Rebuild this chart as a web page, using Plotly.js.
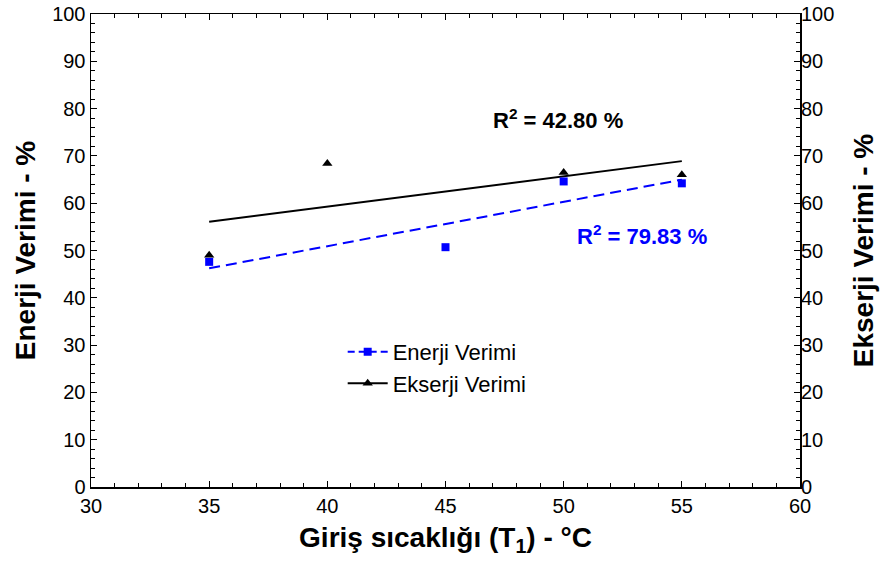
<!DOCTYPE html>
<html>
<head>
<meta charset="utf-8">
<script src="https://cdn.plot.ly/plotly-3.0.1.min.js"></script>
<style>html,body{margin:0;padding:0;background:#fff;}#chart{width:881px;height:570px;}</style>
</head>
<body>
<div id="chart"></div>
<script>
// Data
const enerjiX = [35, 45, 50, 55];
const enerjiY = [47.6, 50.7, 64.6, 64.2];
const ekserjiX = [35, 40, 50, 55];
const ekserjiY = [49.0, 68.4, 66.5, 66.0];
const trendRange = [35, 55];
const r2Enerji = "79.83";
const r2Ekserji = "42.80";

function fitLine(xs, ys, xr) {
  const n = xs.length;
  const mx = xs.reduce((a, b) => a + b, 0) / n;
  const my = ys.reduce((a, b) => a + b, 0) / n;
  let sxy = 0, sxx = 0;
  for (let i = 0; i < n; i++) { sxy += (xs[i] - mx) * (ys[i] - my); sxx += (xs[i] - mx) ** 2; }
  const b = sxy / sxx, a = my - b * mx;
  return xr.map(x => a + b * x);
}

const blue = '#0000FF';
const black = '#000000';
const font = 'Arial, "Liberation Sans", sans-serif';
const dashStyle = '11px,6px';

const traces = [
  { x: trendRange, y: fitLine(enerjiX, enerjiY, trendRange), mode: 'lines',
    line: { color: blue, width: 2, dash: dashStyle }, showlegend: false, hoverinfo: 'skip' },
  { x: trendRange, y: fitLine(ekserjiX, ekserjiY, trendRange), mode: 'lines',
    line: { color: black, width: 2 }, showlegend: false, hoverinfo: 'skip' },
  { x: enerjiX, y: enerjiY, mode: 'markers', marker: { symbol: 'square', size: 8, color: blue },
    showlegend: false },
  { x: ekserjiX, y: ekserjiY, mode: 'markers', marker: { symbol: 'triangle-up', size: 9, color: black },
    showlegend: false },
  { x: [null], y: [null], mode: 'lines+markers', name: 'Enerji Verimi',
    line: { color: blue, width: 2, dash: '7px,4px' }, marker: { symbol: 'square', size: 8, color: blue } },
  { x: [null], y: [null], mode: 'lines+markers', name: 'Ekserji Verimi',
    line: { color: black, width: 2 }, marker: { symbol: 'triangle-up', size: 9, color: black } },
  { x: [null], y: [null], yaxis: 'y2', showlegend: false, mode: 'markers' }
];

const tickFont = { family: font, size: 20, color: '#000' };
const titleFont = { family: font, size: 28, color: '#000', weight: 'bold' };

const layout = {
  width: 881, height: 570,
  margin: { l: 91, r: 81, t: 14, b: 83, pad: 0 },
  paper_bgcolor: '#fff', plot_bgcolor: '#fff',
  font: { family: font, color: '#000' },
  showlegend: true,
  legend: {
    x: 0.355, y: 0.33, xanchor: 'left', yanchor: 'top',
    bgcolor: 'rgba(0,0,0,0)', font: { family: font, size: 22, color: '#000' },
    tracegroupgap: 0, itemwidth: 40
  },
  xaxis: {
    range: [30, 60], dtick: 5, tick0: 30, showgrid: false, zeroline: false,
    showline: true, linecolor: '#000', linewidth: 1.5, mirror: 'ticks',
    ticks: 'inside', ticklen: 6, tickcolor: '#000', tickwidth: 1,
    minor: { dtick: 1, ticks: 'inside', ticklen: 4, tickcolor: '#000', showgrid: false },
    tickfont: tickFont,
    title: { text: '<b>Giriş sıcaklığı (T<sub>1</sub>) - °C</b>', font: titleFont, standoff: 12 }
  },
  yaxis: {
    range: [0, 100], dtick: 10, showgrid: false, zeroline: false,
    showline: true, linecolor: '#000', linewidth: 1.5, mirror: true,
    ticks: 'inside', ticklen: 6, tickcolor: '#000', tickwidth: 1,
    minor: { dtick: 2, ticks: 'inside', ticklen: 4, tickcolor: '#000', showgrid: false },
    tickfont: tickFont,
    title: { text: '<b>Enerji Verimi - %</b>', font: titleFont, standoff: 8 }
  },
  yaxis2: {
    range: [0, 100], dtick: 10, overlaying: 'y', side: 'right', showgrid: false, zeroline: false,
    showline: false,
    ticks: 'inside', ticklen: 6, tickcolor: '#000', tickwidth: 1,
    minor: { dtick: 2, ticks: 'inside', ticklen: 4, tickcolor: '#000', showgrid: false },
    tickfont: tickFont,
    title: { text: '<b>Ekserji Verimi - %</b>', font: titleFont, standoff: 20 }
  },
  annotations: [
    { x: 49.76, y: 77.8, xref: 'x', yref: 'y', showarrow: false,
      text: '<b>R<sup>2</sup> = ' + r2Ekserji + ' %</b>', font: { family: font, size: 22, color: black } },
    { x: 53.3, y: 53.3, xref: 'x', yref: 'y', showarrow: false,
      text: '<b>R<sup>2</sup> = ' + r2Enerji + ' %</b>', font: { family: font, size: 22, color: blue } }
  ]
};

Plotly.newPlot('chart', traces, layout, { displayModeBar: false, staticPlot: true });
</script>
</body>
</html>
